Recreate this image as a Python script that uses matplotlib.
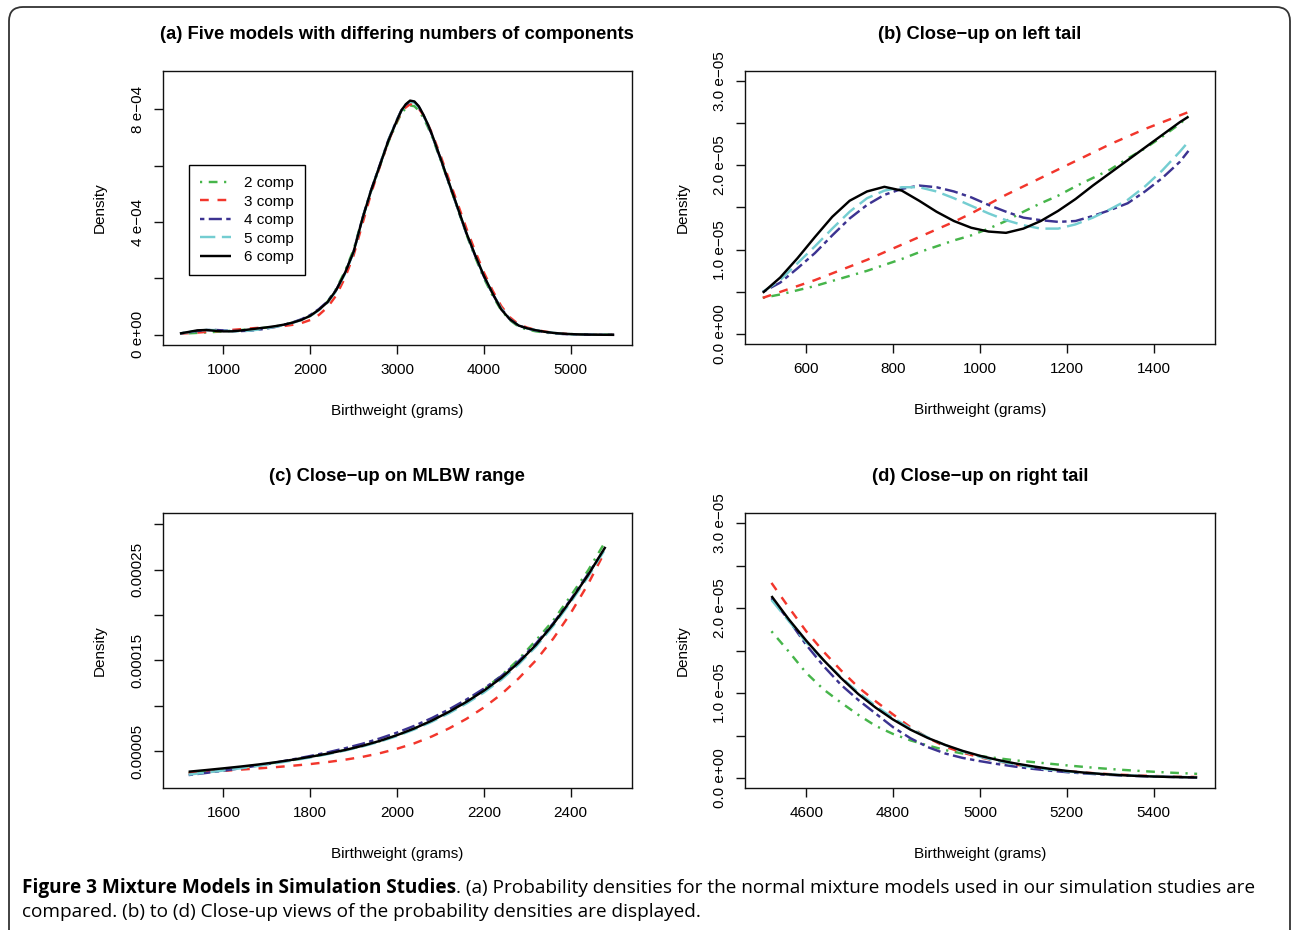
import numpy as np
import matplotlib
matplotlib.use("Agg")
import matplotlib.pyplot as plt
from matplotlib.patches import FancyBboxPatch
from matplotlib.transforms import IdentityTransform

W, H = 1292, 930

# ---- data (densities) ----
labels = ["2 comp", "3 comp", "4 comp", "5 comp", "6 comp"]

# (a) whole range, density in units of 1e-4 (finer steps around the mode)
x_a = np.concatenate([np.arange(500, 3000, 100), np.arange(3000, 3400, 50),
                      np.arange(3400, 5501, 100)])
a_comp2 = [0.043, 0.054, 0.069, 0.085, 0.104, 0.121, 0.145, 0.170, 0.195, 0.227,
           0.259, 0.300, 0.358, 0.433, 0.532, 0.672, 0.89, 1.18, 1.635, 2.25,
           3.02, 4.12, 5.08, 5.96, 6.83,
           7.54, 7.85, 8.03, 8.13, 8.10, 7.95, 7.71, 7.40,
           7.04, 6.21, 5.34, 4.45, 3.55, 2.75, 2.01, 1.39, 0.87, 0.52, 0.29,
           0.185, 0.124, 0.082, 0.052, 0.036, 0.026, 0.020, 0.015, 0.0108, 0.0075,
           0.005]
a_comp3 = [0.043, 0.060, 0.080, 0.102, 0.124, 0.148, 0.175, 0.200, 0.225, 0.247,
           0.257, 0.281, 0.315, 0.356, 0.418, 0.525, 0.705, 0.98, 1.40, 2.02,
           2.82, 3.92, 5.00, 5.95, 6.85,
           7.58, 7.88, 8.06, 8.17, 8.15, 8.02, 7.80, 7.50,
           7.16, 6.36, 5.49, 4.63, 3.76, 2.96, 2.21, 1.57, 1.02, 0.62, 0.37,
           0.255, 0.173, 0.117, 0.075, 0.042, 0.0245, 0.0145, 0.0083, 0.0046, 0.0025,
           0.0013]
a_comp4 = [0.050, 0.087, 0.137, 0.169, 0.174, 0.158, 0.138, 0.133, 0.147, 0.177,
           0.226, 0.283, 0.356, 0.445, 0.555, 0.703, 0.913, 1.185, 1.60, 2.19,
           2.95, 4.12, 5.12, 6.01, 6.90,
           7.63, 7.96, 8.15, 8.28, 8.25, 8.08, 7.81, 7.48,
           7.10, 6.24, 5.35, 4.47, 3.58, 2.80, 2.07, 1.45, 0.93, 0.55, 0.33,
           0.225, 0.157, 0.100, 0.059, 0.032, 0.020, 0.012, 0.007, 0.0038, 0.0019,
           0.0008]
a_comp5 = [0.050, 0.094, 0.145, 0.172, 0.169, 0.148, 0.129, 0.127, 0.148, 0.185,
           0.234, 0.285, 0.350, 0.429, 0.527, 0.665, 0.873, 1.14, 1.56, 2.16,
           2.93, 4.10, 5.10, 6.00, 6.90,
           7.62, 7.94, 8.15, 8.26, 8.23, 8.07, 7.80, 7.47,
           7.10, 6.25, 5.36, 4.48, 3.59, 2.81, 2.08, 1.46, 0.94, 0.55, 0.33,
           0.225, 0.160, 0.110, 0.071, 0.043, 0.025, 0.0145, 0.0079, 0.0042, 0.0021,
           0.001]
a_comp6 = [0.049, 0.103, 0.159, 0.172, 0.145, 0.123, 0.125, 0.153, 0.191, 0.229,
           0.265, 0.309, 0.363, 0.435, 0.532, 0.675, 0.89, 1.16, 1.59, 2.19,
           2.95, 4.10, 5.11, 5.99, 6.88,
           7.61, 7.95, 8.17, 8.30, 8.27, 8.10, 7.82, 7.49,
           7.12, 6.26, 5.37, 4.49, 3.60, 2.82, 2.09, 1.47, 0.90, 0.55, 0.33,
           0.23, 0.162, 0.108, 0.069, 0.043, 0.026, 0.0157, 0.0085, 0.0042, 0.0019,
           0.0007]

# (b) left tail, units of 1e-5
x_b = np.append(np.arange(500, 1461, 40), 1480)
b_comp2 = [0.43, 0.47, 0.52, 0.57, 0.63, 0.69, 0.75, 0.82, 0.89, 0.97, 1.04, 1.11, 1.17,
           1.25, 1.34, 1.45, 1.55, 1.64, 1.75, 1.85, 1.95, 2.08, 2.20, 2.34, 2.49, 2.58]
b_comp3 = [0.43, 0.50, 0.57, 0.64, 0.72, 0.80, 0.88, 0.97, 1.06, 1.15, 1.24, 1.33, 1.43,
           1.54, 1.65, 1.75, 1.85, 1.95, 2.05, 2.15, 2.25, 2.34, 2.43, 2.51, 2.59, 2.63]
b_comp4 = [0.50, 0.61, 0.78, 0.96, 1.17, 1.37, 1.53, 1.65, 1.72, 1.76, 1.74, 1.69, 1.62,
           1.53, 1.45, 1.38, 1.35, 1.33, 1.34, 1.40, 1.47, 1.55, 1.69, 1.85, 2.04, 2.17]
b_comp5 = [0.50, 0.64, 0.84, 1.04, 1.25, 1.45, 1.61, 1.70, 1.74, 1.74, 1.69, 1.61, 1.52,
           1.43, 1.35, 1.29, 1.25, 1.25, 1.30, 1.38, 1.48, 1.59, 1.75, 1.94, 2.16, 2.28]
b_comp6 = [0.49, 0.67, 0.90, 1.15, 1.39, 1.58, 1.69, 1.745, 1.70, 1.58, 1.45, 1.34, 1.26,
           1.215, 1.20, 1.25, 1.34, 1.46, 1.60, 1.76, 1.91, 2.06, 2.21, 2.36, 2.51, 2.575]

# (c) MLBW range, units of 1e-5
x_c = np.arange(1520, 2481, 40)
c_comp2 = [2.60, 2.80, 3.00, 3.22, 3.45, 3.72, 4.01, 4.33, 4.69, 5.09, 5.55, 6.08, 6.72,
           7.48, 8.36, 9.38, 10.52, 11.8, 13.3, 15.1, 17.2, 19.4, 22.1, 24.9, 28.1]
c_comp3 = [2.55, 2.68, 2.81, 2.95, 3.08, 3.22, 3.38, 3.56, 3.78, 4.04, 4.35, 4.75, 5.25,
           5.85, 6.60, 7.50, 8.55, 9.80, 11.25, 13.0, 15.0, 17.4, 20.2, 23.4, 27.1]
c_comp4 = [2.35, 2.58, 2.83, 3.10, 3.40, 3.72, 4.08, 4.45, 4.85, 5.30, 5.80, 6.38, 7.03,
           7.78, 8.63, 9.60, 10.68, 11.88, 13.25, 14.9, 16.85, 19.1, 21.7, 24.5, 27.4]
c_comp5 = [2.40, 2.62, 2.85, 3.10, 3.36, 3.65, 3.96, 4.29, 4.65, 5.05, 5.50, 6.03, 6.65,
           7.38, 8.22, 9.17, 10.24, 11.45, 12.85, 14.55, 16.5, 18.8, 21.4, 24.2, 27.3]
c_comp6 = [2.72, 2.90, 3.09, 3.29, 3.51, 3.76, 4.04, 4.36, 4.71, 5.11, 5.57, 6.11, 6.75,
           7.49, 8.35, 9.33, 10.42, 11.65, 13.05, 14.75, 16.7, 19.0, 21.6, 24.4, 27.5]

# (d) right tail, units of 1e-5
x_d = np.append(np.arange(4520, 5481, 40), 5500)
d_comp2 = [1.73, 1.49, 1.24, 1.045, 0.89, 0.745, 0.615, 0.52, 0.445, 0.385, 0.33, 0.29, 0.26,
           0.235, 0.21, 0.19, 0.17, 0.15, 0.132, 0.115, 0.10, 0.087, 0.075, 0.064, 0.055, 0.05]
d_comp3 = [2.30, 2.01, 1.73, 1.49, 1.27, 1.07, 0.905, 0.75, 0.60, 0.475, 0.37, 0.30, 0.245,
           0.20, 0.16, 0.13, 0.105, 0.083, 0.066, 0.052, 0.041, 0.032, 0.025, 0.019, 0.015, 0.013]
d_comp4 = [2.12, 1.86, 1.57, 1.32, 1.10, 0.92, 0.76, 0.60, 0.47, 0.365, 0.29, 0.238, 0.20,
           0.166, 0.136, 0.11, 0.088, 0.07, 0.055, 0.043, 0.033, 0.025, 0.019, 0.014, 0.010, 0.008]
d_comp5 = [2.10, 1.85, 1.60, 1.39, 1.19, 1.01, 0.85, 0.71, 0.585, 0.48, 0.39, 0.315, 0.252,
           0.202, 0.162, 0.128, 0.101, 0.079, 0.062, 0.048, 0.037, 0.028, 0.021, 0.016, 0.012, 0.010]
d_comp6 = [2.145, 1.87, 1.62, 1.39, 1.18, 0.99, 0.83, 0.69, 0.571, 0.473, 0.391, 0.321, 0.263,
           0.215, 0.174, 0.140, 0.110, 0.085, 0.065, 0.049, 0.036, 0.026, 0.0187, 0.013, 0.0089, 0.0074]

titles = ["(a) Five models with differing numbers of components",
          "(b) Close\u2212up on left tail",
          "(c) Close\u2212up on MLBW range",
          "(d) Close\u2212up on right tail"]

# ---- styles ----
colors = ["#46b54a", "#f2362c", "#3c3391", "#74cdd1", "black"]
dashes = [(0.9, 2.7, 3.6, 2.7), (3.6, 3.6), (1.8, 1.8, 5.4, 1.8), (6.3, 2.7), None]
LW = 1.75

plt.rcParams["font.family"] = ["Liberation Sans", "DejaVu Sans"]
fig = plt.figure(figsize=(W / 100, H / 100), dpi=100)


def px_axes(left, top, right, bottom):
    return fig.add_axes([left / W, 1 - bottom / H, (right - left) / W, (bottom - top) / H])


def style(ax):
    for s in ax.spines.values():
        s.set_linewidth(1.0)
        s.set_color("#111111")
    ax.tick_params(direction="out", length=6.5, width=1.0, pad=6.5,
                   labelsize=11, color="#111111")


def draw(ax, x, series, scale):
    lines = []
    for vals, c, d, lab in zip(series, colors, dashes, labels):
        ln, = ax.plot(x, np.asarray(vals) * scale, color=c, lw=LW, label=lab,
                      solid_capstyle="butt", dash_capstyle="butt",
                      solid_joinstyle="round")
        if d is not None:
            ln.set_dashes(d)
        lines.append(ln)
    return lines


boxes = {"a": (162.6, 70.7, 631.5, 345.0), "b": (745.4, 70.7, 1214.5, 344.3),
         "c": (162.6, 513.3, 631.5, 788.3), "d": (745.4, 513.3, 1214.5, 788.3)}

ax_a = px_axes(*boxes["a"])
ax_b = px_axes(*boxes["b"])
ax_c = px_axes(*boxes["c"])
ax_d = px_axes(*boxes["d"])
for ax in (ax_a, ax_b, ax_c, ax_d):
    style(ax)

lines_a = draw(ax_a, x_a, [a_comp2, a_comp3, a_comp4, a_comp5, a_comp6], 1e-4)
draw(ax_b, x_b, [b_comp2, b_comp3, b_comp4, b_comp5, b_comp6], 1e-5)
draw(ax_c, x_c, [c_comp2, c_comp3, c_comp4, c_comp5, c_comp6], 1e-5)
draw(ax_d, x_d, [d_comp2, d_comp3, d_comp4, d_comp5, d_comp6], 1e-5)

# axis limits (R style 4% padding)
ax_a.set_xlim(300, 5700)
ax_a.set_ylim(-0.36e-4, 9.36e-4)
ax_b.set_xlim(460, 1540)
ax_b.set_ylim(-0.12e-5, 3.12e-5)
ax_c.set_xlim(1460, 2540)
ax_c.set_ylim(0.89e-5, 31.2e-5)
ax_d.set_xlim(4460, 5540)
ax_d.set_ylim(-0.12e-5, 3.12e-5)

ax_a.set_xticks([1000, 2000, 3000, 4000, 5000])
ax_b.set_xticks([600, 800, 1000, 1200, 1400])
ax_c.set_xticks([1600, 1800, 2000, 2200, 2400])
ax_d.set_xticks([4600, 4800, 5000, 5200, 5400])

ya = [0, 2e-4, 4e-4, 6e-4, 8e-4]
ax_a.set_yticks(ya, ["0 e+00", "", "4 e\u221204", "", "8 e\u221204"])
yb = [0, 0.5e-5, 1e-5, 1.5e-5, 2e-5, 2.5e-5, 3e-5]
lab_b = ["0.0 e+00", "", "1.0 e\u221205", "", "2.0 e\u221205", "", "3.0 e\u221205"]
ax_b.set_yticks(yb, lab_b)
ax_d.set_yticks(yb, lab_b)
yc = [5e-5, 10e-5, 15e-5, 20e-5, 25e-5, 30e-5]
ax_c.set_yticks(yc, ["0.00005", "", "0.00015", "", "0.00025", ""])
for ax in (ax_a, ax_b, ax_c, ax_d):
    for t in ax.get_yticklabels():
        t.set_rotation(90)
        t.set_va("center")

# titles and axis labels
for key, title in zip("abcd", titles):
    l, t, r, b = boxes[key]
    cx = (l + r) / 2
    fig.text(cx / W, 1 - (t - 36.5) / H, title, ha="center", va="center",
             fontsize=13.2, fontweight="bold")
    fig.text(cx / W, 1 - (b + 65.5) / H, "Birthweight (grams)", ha="center",
             va="center", fontsize=11)
    fig.text((l - 63) / W, 1 - ((t + b) / 2) / H, "Density", ha="center",
             va="center", rotation=90, fontsize=11)

# legend in panel (a)
l, t, r, b = boxes["a"]
leg = ax_a.legend(handles=lines_a, loc="upper left",
                  bbox_to_anchor=((188.8 - l) / (r - l), 1 - (165.3 - t) / (b - t)),
                  borderaxespad=0, fancybox=False, framealpha=1, edgecolor="black",
                  fontsize=11, handlelength=2.03, handletextpad=0.88,
                  labelspacing=0.29, borderpad=0.72)
leg.get_frame().set_linewidth(1.0)

# outer rounded frame
frame = FancyBboxPatch((9, -40), 1281, 963, boxstyle="round,pad=0,rounding_size=14",
                       transform=IdentityTransform(), fill=False, lw=1.3,
                       edgecolor="#333333")
fig.patches.append(frame)

# caption
cap_font = ["Open Sans", "DejaVu Sans"]
bold_part = "Figure 3 Mixture Models in Simulation Studies"
rest_1 = (". (a) Probability densities for the normal mixture models used in our "
          "simulation studies are")
line_2 = "compared. (b) to (d) Close-up views of the probability densities are displayed."

renderer = fig.canvas.get_renderer()
size = 12.0
probe1 = fig.text(0, 0, bold_part, fontsize=size, fontweight="bold", family=cap_font)
probe2 = fig.text(0, 0, rest_1, fontsize=size, family=cap_font)
total = probe1.get_window_extent(renderer).width + probe2.get_window_extent(renderer).width
probe1.remove()
probe2.remove()
size = size * (1250 - 22) / total

y1 = 1 - 893 / H
t1 = fig.text(22 / W, y1, bold_part, fontsize=size, fontweight="bold", family=cap_font,
              va="baseline")
bb = t1.get_window_extent(renderer)
fig.text(bb.x1 / W, y1, rest_1, fontsize=size, family=cap_font, va="baseline")
fig.text(22 / W, 1 - 917 / H, line_2, fontsize=size, family=cap_font, va="baseline")

fig.savefig("out.png", dpi=100)
